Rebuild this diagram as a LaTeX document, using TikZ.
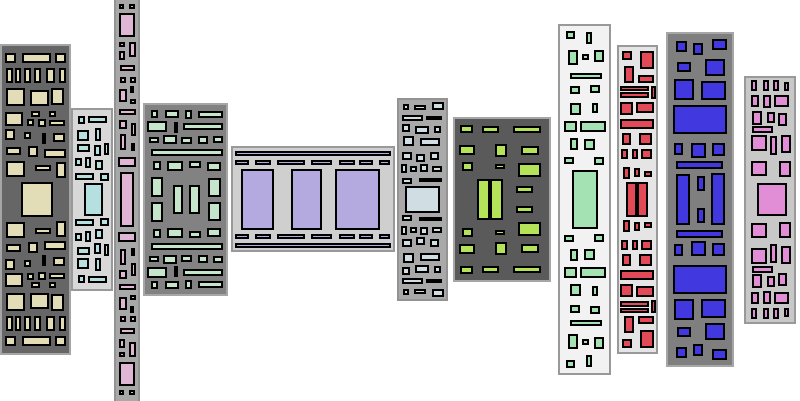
\documentclass[tikz,border=0pt]{standalone}
\usepackage{xcolor}
\usepackage{tikz}

\definecolor{bgone}{HTML}{666666}
\definecolor{bgtwo}{HTML}{D8D8D8}
\definecolor{bgthree}{HTML}{A8A8A8}
\definecolor{bgfour}{HTML}{828282}
\definecolor{bgfive}{HTML}{CFCFCF}
\definecolor{bgsix}{HTML}{A9A9A9}
\definecolor{bgseven}{HTML}{5A5A5A}
\definecolor{bgeight}{HTML}{F2F2F2}
\definecolor{bgnine}{HTML}{E5E5E5}
\definecolor{bgten}{HTML}{7F7F7F}
\definecolor{bgeleven}{HTML}{C8C8C8}

\definecolor{khaki}{HTML}{E3DDB7}
\definecolor{aqua}{HTML}{B6E0E0}
\definecolor{rose}{HTML}{E0B6D4}
\definecolor{sage}{HTML}{C6E6CC}
\definecolor{lilac}{HTML}{B4AAE0}
\definecolor{frost}{HTML}{D0DEE4}
\definecolor{lime}{HTML}{B4E258}
\definecolor{mint}{HTML}{A4E2B4}
\definecolor{coral}{HTML}{E24A58}
\definecolor{royal}{HTML}{4238E0}
\definecolor{orchid}{HTML}{E28ED6}

\tikzset{
  panel/.style={draw=#1, line width=2pt},
  cell/.style={draw=black, line width=2pt, fill=#1},
}

% cells of the upper half, repeated mirrored in the lower half
\newcommand{\cells}[2]{%
  \foreach \xa/\ya/\xb/\yb in {#2}
    {\draw[cell=#1] (\xa+0.6,\ya+0.6) rectangle (\xb-0.6,\yb-0.6)
       (\xa+0.6,{398.4-\ya}) rectangle (\xb-0.6,{399.6-\yb});}}
% cells across the middle, drawn once
\newcommand{\midcells}[2]{%
  \foreach \xa/\ya/\xb/\yb in {#2}
    {\draw[cell=#1] (\xa+0.6,\ya+0.6) rectangle (\xb-0.6,\yb-0.6);}}

\begin{document}
\begin{tikzpicture}[x=1pt, y=-1pt]

\clip (0,0) rectangle (800,400);

% Panel 1
\draw[panel=gray!70, fill=bgone] (1,45) rectangle (70,354);
\cells{khaki}{5/53/16/63, 22/53/51/63, 55/53/66/63,
  6/68/13/83, 15/68/21/83, 24/68/31/83, 34/68/41/83, 46/68/55/83, 59/68/66/83,
  6/88/25/106, 30/90/49/106, 51/88/64/105,
  5/112/23/126, 31/111/40/117, 49/111/56/117, 27/119/34/126, 38/119/46/127, 49/120/65/126,
  5/129/15/140, 24/132/31/139, 42/133/46/144, 53/133/65/142,
  6/147/21/155, 28/146/38/157, 44/149/66/158,
  6/161/25/177, 35/165/51/171, 56/162/66/178}
\midcells{khaki}{21/182/53/217}

% Panel 2
\draw[panel=gray!80, fill=bgtwo] (72,109) rectangle (112,290);
\cells{aqua}{78/116/85/124, 88/116/107/123, 77/130/89/141, 95/128/101/141,
  77/144/90/152, 94/145/101/156, 104/143/109/155,
  75/158/82/166, 85/157/91/168, 95/160/103/170, 75/173/94/180, 100/173/109/181}
\midcells{aqua}{84/183/103/216}

% Panel 3
\draw[panel=gray!85, fill=bgthree] (115,-5) rectangle (139,405);
\cells{rose}{119/4/124/9, 129/4/135/9, 119/13/135/37,
  119/42/125/47, 129/42/136/57, 119/51/125/60, 120/65/135/71,
  120/77/126/83, 130/77/136/83, 119/89/127/102, 130/86/134/93, 130/99/136/104,
  119/109/136/115, 119/120/127/129, 131/123/136/136, 120/134/126/150, 131/143/135/151,
  118/157/136/167}
\midcells{rose}{120/172/134/227}

% Panel 4
\draw[panel=gray!70, fill=bgfour] (144,104) rectangle (227,295);
\cells{sage}{151/110/158/118, 165/110/179/118, 185/110/192/119, 198/111/223/118,
  147/121/167/132, 174/122/178/133, 183/123/223/130,
  149/137/159/143, 163/135/177/144, 181/137/192/144, 198/136/208/144, 213/136/223/143,
  151/149/223/156,
  153/161/161/170, 167/161/183/171, 189/161/201/168, 207/162/221/171,
  151/177/163/197, 208/178/221/197}
\midcells{sage}{173/185/183/214, 189/185/200/214}

% Panel 5
\draw[panel=gray!80, fill=bgfive] (232,147) rectangle (394,251);
\cells{lilac}{235/151/391/156,
  235/160/249/165, 255/160/271/165, 277/160/305/165, 311/160/332/165,
  339/160/355/165, 359/160/373/165, 379/160/390/165}
\midcells{lilac}{241/169/274/230, 291/169/322/230, 335/169/380/230}

% Panel 6
\draw[panel=gray!85, fill=bgsix] (398,99) rectangle (447,300);
\cells{frost}{403/104/409/110, 414/105/426/110, 432/102/444/110,
  402/115/423/121, 426/116/442/120,
  402/124/410/132, 415/126/429/134, 434/126/441/133,
  403/136/414/146, 420/138/440/146,
  402/152/412/160, 416/154/425/162, 430/152/439/160,
  401/164/407/173, 410/166/417/172, 420/164/428/172, 432/166/442/172,
  402/178/412/184, 419/178/442/182}
\midcells{frost}{405/186/440/213}

% Panel 7
\draw[panel=gray!70, fill=bgseven] (454,118) rectangle (550,281);
\cells{lime}{460/125/473/133, 482/126/499/133, 513/126/541/133,
  459/145/475/155, 495/144/507/157, 521/146/539/155,
  462/162/473/171, 495/164/505/169, 518/163/541/177,
  516/186/533/193}
\midcells{lime}{477/179/490/220, 490/179/503/220}

% Panel 8
\draw[panel=gray!80, fill=bgeight] (559,25) rectangle (610,374);
\cells{mint}{566/31/575/39, 586/32/592/44,
  568/50/578/65, 582/54/589/60, 594/50/604/62,
  570/73/602/79, 570/86/580/94, 590/85/600/93,
  570/103/581/115, 592/103/598/113,
  564/121/577/132, 580/121/606/132,
  570/138/578/150, 584/139/595/150,
  564/157/574/164, 594/157/604/165}
\midcells{mint}{572/170/598/229}

% Panel 9
\draw[panel=gray!80, fill=bgnine] (618,46) rectangle (657,353);
\cells{coral}{622/51/632/60, 640/51/654/69, 624/66/634/83, 638/75/654/83,
  620/86/649/91, 620/92/649/98, 651/86/656/99,
  620/102/633/115, 636/102/654/113, 620/119/654/129,
  622/133/631/145, 639/133/652/145,
  621/149/628/159, 632/149/638/159, 641/149/652/159,
  623/167/630/179, 634/168/640/177, 644/171/652/177}
\midcells{coral}{626/182/637/217, 637/182/648/217}

% Panel 10
\draw[panel=gray!70, fill=bgten] (667,33) rectangle (733,366);
\cells{royal}{676/41/687/52, 693/43/703/55, 712/39/727/50,
  677/62/691/72, 705/59/725/76,
  674/79/694/100, 701/81/726/100, 673/105/727/134,
  674/143/683/155, 691/143/706/158, 712/143/725/156,
  676/161/723/169, 697/176/705/191}
\midcells{royal}{676/174/690/225, 711/173/725/225}

% Panel 11
\draw[panel=gray!80, fill=bgeleven] (745,77) rectangle (795,323);
\cells{orchid}{751/80/757/91, 763/80/769/91, 773/80/779/91, 784/82/789/91,
  751/95/759/107, 763/95/771/108, 774/95/789/107,
  752/111/762/125, 767/112/775/123, 778/113/787/126, 752/126/773/133,
  751/135/767/151, 770/136/777/155, 781/135/791/153,
  751/161/767/176, 779/161/791/177}
\midcells{orchid}{757/183/787/216}

\end{tikzpicture}
\end{document}
